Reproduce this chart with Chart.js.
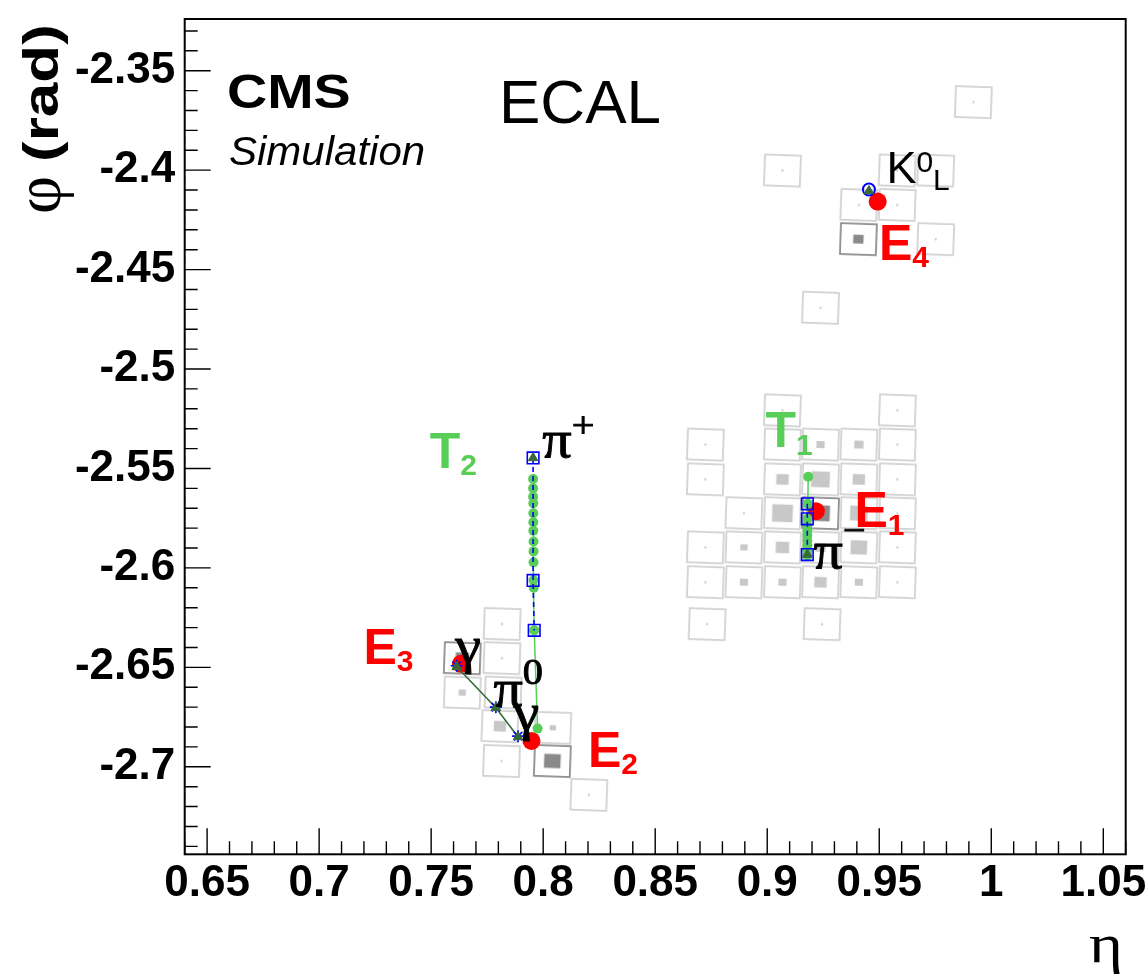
<!DOCTYPE html>
<html>
<head>
<meta charset="utf-8">
<title>ECAL event display</title>
<script src="https://cdn.jsdelivr.net/npm/chart.js@4.4.1/dist/chart.umd.min.js"></script>
<style>
  html, body { margin: 0; padding: 0; background: #ffffff; }
  #box { position: relative; width: 1148px; height: 978px; }
</style>
</head>
<body>
<div id="box"><canvas id="display" width="1148" height="978"></canvas></div>
<script>
// ---- axis ticks ----
const etaTicks = [0.65, 0.7, 0.75, 0.8, 0.85, 0.9, 0.95, 1, 1.05];
const phiTicks = [-2.7, -2.65, -2.6, -2.55, -2.5, -2.45, -2.4, -2.35];

// ---- ECAL crystals with energy deposits ----
const cellEta = [
  0.9920, 0.9068, 0.9580, 0.9752, 0.9409, 0.9580, 0.9407, 0.9752, 0.9238,
  0.9068, 0.9581,
  0.8724, 0.9068, 0.9238, 0.9409, 0.9581,
  0.8724, 0.9068, 0.9238, 0.9409, 0.9581,
  0.8896, 0.9068, 0.9238, 0.9409, 0.9581,
  0.8724, 0.8896, 0.9068, 0.9238, 0.9409, 0.9581,
  0.8724, 0.8896, 0.9068, 0.9238, 0.9409, 0.9581,
  0.8732, 0.9245,
  0.7817, 0.7639, 0.7816, 0.7639, 0.7821, 0.7807, 0.8043, 0.7814, 0.8041, 0.8204
];
const cellPhi = [
  -2.3658, -2.4002, -2.4002, -2.4002, -2.4175, -2.4175, -2.4347, -2.4347, -2.4692,
  -2.5208, -2.5208,
  -2.5380, -2.5380, -2.5380, -2.5380, -2.5380,
  -2.5555, -2.5555, -2.5555, -2.5555, -2.5555,
  -2.5725, -2.5725, -2.5725, -2.5725, -2.5725,
  -2.5897, -2.5897, -2.5897, -2.5897, -2.5897, -2.5897,
  -2.6072, -2.6072, -2.6072, -2.6072, -2.6072, -2.6072,
  -2.6283, -2.6283,
  -2.6282, -2.6454, -2.6454, -2.6627, -2.6627, -2.6796, -2.6804, -2.6971, -2.6971, -2.7141
];
// deposited energy (GeV)
const cellEnergy = [
  0.2, 0.2, 0.2, 0.2, 0.2, 0.2, 1.0, 0.2, 0.2,
  0.2, 0.2,
  0.2, 0.2, 0.8, 0.9, 0.2,
  0.2, 1.2, 1.8, 1.2, 0.2,
  0.2, 2.0, 1.8, 1.7, 0.2,
  0.2, 0.7, 1.3, 1.0, 1.6, 0.2,
  0.2, 0.8, 0.8, 1.2, 0.8, 0.2,
  0.2, 0.2,
  0.2, 1.3, 0.2, 0.7, 0.2, 1.2, 0.6, 0.2, 1.6, 0.2
];
// 1 = seed crystal of a cluster
const cellSeed = [
  0, 0, 0, 0, 0, 0, 1, 0, 0,
  0, 0,
  0, 0, 0, 0, 0,
  0, 0, 0, 0, 0,
  0, 0, 1, 0, 0,
  0, 0, 0, 0, 0, 0,
  0, 0, 0, 0, 0, 0,
  0, 0,
  0, 1, 0, 0, 0, 0, 0, 0, 1, 0
];

// ---- ECAL clusters E1..E4 ----
const clusterEta = [0.9217, 0.7948, 0.7633, 0.9493];
const clusterPhi = [-2.5715, -2.6870, -2.6482, -2.4158];

// ---- track T1 (pi-) ----
const t1Eta = [0.9183, 0.9181, 0.9179, 0.9179, 0.9179, 0.9179, 0.9179, 0.9179, 0.9179, 0.9179];
const t1Phi = [-2.5542, -2.5678, -2.5753, -2.5787, -2.5812, -2.5837, -2.5862, -2.5887, -2.5912, -2.5937];
const t1EcalEta = [0.9179, 0.9179, 0.9179];
const t1EcalPhi = [-2.5678, -2.5753, -2.5933];

// ---- track T2 (pi+) ----
const t2Eta = [0.7955, 0.7955, 0.7955, 0.7956, 0.7956, 0.7956, 0.7956, 0.7957, 0.7957, 0.7957, 0.7957, 0.7958, 0.7960, 0.7975];
const t2Phi = [-2.5553, -2.5600, -2.5642, -2.5675, -2.5725, -2.5770, -2.5813, -2.5867, -2.5917, -2.5972, -2.6062, -2.6100, -2.6314, -2.6808];
const t2EcalEta = [0.7955, 0.7955, 0.7960];
const t2EcalPhi = [-2.5447, -2.6063, -2.6314];

// ---- simulated particles: pi+, pi-, K0L, gamma, pi0, gamma ----
const simEta = [0.7955, 0.9179, 0.9454, 0.7614, 0.7789, 0.7888];
const simPhi = [-2.5447, -2.5933, -2.4105, -2.6497, -2.6703, -2.6850];
// photon impact points and pi0 vertex
const gammaEta = [0.7614, 0.7789, 0.7888];
const gammaPhi = [-2.6492, -2.6700, -2.6846];
// neutral hadron K0L impact
const k0Eta = [0.9454];
const k0Phi = [-2.4097];

// ---- styling ----
const SANS = '"Liberation Sans", Arial, Helvetica, sans-serif';
const SERIF = '"Liberation Serif", "Times New Roman", serif';
const GREEN = 'rgb(88,206,88)';
const DARKGREEN = '#386a38';
const BLUE = '#0000ff';
const RED = '#ff0000';

const ETA_MIN = 0.64, ETA_MAX = 1.06, PHI_MIN = -2.744, PHI_MAX = -2.324;
const CELL_DETA = 0.0160, CELL_DPHI = 0.0155;   // crystal face drawn size
const BOX_DETA_PER_GEV = 0.0046;                 // energy box width per GeV
const CELL_TILT = 2;                             // degrees

const pts = (ex, ph) => ex.map((e, i) => ({ x: e, y: ph[i] }));

// Each crystal is drawn as a small canvas image: frame plus energy box,
// sized from the current scales.
const cellImages = new Map();
function cellImage(chart, energy, seed) {
  const xs = chart.scales.x, ys = chart.scales.y;
  const pxEta = Math.abs(xs.getPixelForValue(1) - xs.getPixelForValue(0));
  const pxPhi = Math.abs(ys.getPixelForValue(-2) - ys.getPixelForValue(-3));
  const w = CELL_DETA * pxEta, h = CELL_DPHI * pxPhi;
  const key = [w.toFixed(2), h.toFixed(2), energy, seed].join('|');
  if (cellImages.has(key)) return cellImages.get(key);
  const pad = 2;
  const cv = document.createElement('canvas');
  cv.width = Math.ceil(w + 2 * pad);
  cv.height = Math.ceil(h + 2 * pad);
  const g = cv.getContext('2d');
  const cx = cv.width / 2, cy = cv.height / 2;
  g.lineWidth = 1.8;
  g.strokeStyle = seed ? '#8e8e8e' : '#d2d2d2';
  g.strokeRect(cx - w / 2, cy - h / 2, w, h);
  const bw = Math.max(energy * BOX_DETA_PER_GEV * pxEta, 2);
  const bh = Math.max(bw * 0.85, 2);
  g.fillStyle = seed ? '#8a8a8a' : '#c8c8c8';
  g.fillRect(cx - bw / 2, cy - bh / 2, bw, bh);
  cellImages.set(key, cv);
  return cv;
}

const fmt = v => String(Math.round(v * 100) / 100);

// Frame and inward ticks (major 0.05, minor 0.01)
const frameTicks = {
  id: 'frameTicks',
  afterDatasetsDraw(chart) {
    const { ctx, chartArea: a, scales: { x, y } } = chart;
    ctx.save();
    ctx.strokeStyle = '#000';
    ctx.lineWidth = 1.4;
    ctx.beginPath();
    for (let i = Math.ceil(ETA_MIN * 100); i <= Math.floor(ETA_MAX * 100); i++) {
      const px = x.getPixelForValue(i / 100);
      const len = i % 5 === 0 ? 26 : 13;
      ctx.moveTo(px, a.bottom);
      ctx.lineTo(px, a.bottom - len);
    }
    for (let i = Math.ceil(PHI_MIN * 100); i <= Math.floor(PHI_MAX * 100); i++) {
      const py = y.getPixelForValue(i / 100);
      const len = i % 5 === 0 ? 26 : 13;
      ctx.moveTo(a.left, py);
      ctx.lineTo(a.left + len, py);
    }
    ctx.stroke();
    ctx.lineWidth = 2;
    ctx.strokeRect(a.left, a.top, a.right - a.left, a.bottom - a.top);
    ctx.restore();
  }
};

// Labels attached to event objects (anchor = left end of the baseline)
const labelStyles = {
  cluster:  { color: RED,   main: `bold 50px ${SANS}`, small: `bold 30px ${SANS}`, sx: 1 },
  track:    { color: GREEN, main: `bold 50px ${SANS}`, small: `bold 30px ${SANS}`, sx: 1 },
  particle: { color: '#000', main: `52px ${SERIF}`, small: `36px ${SERIF}`, sx: 1.12, stroke: 0.9 },
  neutral:  { color: '#000', main: `45px ${SANS}`, small: `30px ${SANS}`, sx: 1 }
};
const eventLabels = [
  { eta: 0.9389, phi: -2.5792, style: 'cluster', parts: [{ t: 'E' }, { t: '1', dy: 8, small: true }] },
  { eta: 0.8200, phi: -2.7000, style: 'cluster', parts: [{ t: 'E' }, { t: '2', dy: 7, small: true }] },
  { eta: 0.7198, phi: -2.6483, style: 'cluster', parts: [{ t: 'E' }, { t: '3', dy: 7, small: true }] },
  { eta: 0.9499, phi: -2.4450, style: 'cluster', parts: [{ t: 'E' }, { t: '4', dy: 7, small: true }] },
  { eta: 0.7494, phi: -2.5497, style: 'track', parts: [{ t: 'T' }, { t: '2', dy: 7, small: true }] },
  { eta: 0.8992, phi: -2.5392, style: 'track', parts: [{ t: 'T' }, { t: '1', dy: 8, small: true }] },
  { eta: 0.7996, phi: -2.5442, style: 'particle', parts: [{ t: '\u03C0' }, { t: '+', dy: -20, small: true }] },
  { eta: 0.9206, phi: -2.6000, style: 'particle', parts: [{ t: '\u03C0' }, { t: '\u2212', dy: -26, small: true }] },
  { eta: 0.7778, phi: -2.6692, style: 'particle', parts: [{ t: '\u03C0' }, { t: '0', dy: -22, small: true }] },
  { eta: 0.7608, phi: -2.6477, style: 'particle', parts: [{ t: '\u03B3' }] },
  { eta: 0.7867, phi: -2.6817, style: 'particle', parts: [{ t: '\u03B3' }] },
  { eta: 0.9532, phi: -2.4067, style: 'neutral', parts: [{ t: 'K' }, { t: '0', dy: -11, small: true }, { t: 'L', dy: 7, small: true }] }
];

function drawParts(ctx, x, y, st, parts) {
  ctx.save();
  ctx.translate(x, y);
  ctx.scale(st.sx, 1);
  ctx.fillStyle = st.color;
  ctx.strokeStyle = st.color;
  let cx = 0;
  for (const p of parts) {
    ctx.font = p.small ? st.small : st.main;
    ctx.fillText(p.t, cx, p.dy || 0);
    if (st.stroke) { ctx.lineWidth = st.stroke; ctx.strokeText(p.t, cx, p.dy || 0); }
    cx += ctx.measureText(p.t).width;
  }
  ctx.restore();
}

const textLayer = {
  id: 'textLayer',
  afterDraw(chart) {
    const { ctx, scales: { x, y } } = chart;
    ctx.save();
    ctx.textBaseline = 'alphabetic';
    ctx.textAlign = 'left';
    for (const l of eventLabels) {
      drawParts(ctx, x.getPixelForValue(l.eta), y.getPixelForValue(l.phi), labelStyles[l.style], l.parts);
    }
    // CMS / Simulation / ECAL
    ctx.fillStyle = '#000';
    ctx.save();
    ctx.translate(227, 108);
    ctx.scale(1.16, 1);
    ctx.font = `bold 48px ${SANS}`;
    ctx.fillText('CMS', 0, 0);
    ctx.restore();
    ctx.save();
    ctx.translate(229, 165);
    ctx.scale(1.05, 1);
    ctx.font = `italic 40px ${SANS}`;
    ctx.fillText('Simulation', 0, 0);
    ctx.restore();
    ctx.font = `62px ${SANS}`;
    ctx.fillText('ECAL', 499, 123);
    // axis titles
    ctx.save();
    ctx.font = `54px ${SERIF}`;
    ctx.textAlign = 'right';
    ctx.translate(1123, 962);
    ctx.scale(1.2, 1);
    ctx.fillText('\u03B7', 0, 0);
    ctx.restore();
    ctx.save();
    ctx.translate(58, 214);
    ctx.rotate(-Math.PI / 2);
    ctx.font = `66px ${SERIF}`;
    ctx.fillText('\u03C6', 0, 2);
    const wPhi = ctx.measureText('\u03C6').width + 14;
    ctx.translate(wPhi, 0);
    ctx.scale(1.24, 1);
    ctx.font = `bold 50px ${SANS}`;
    ctx.fillText('(rad)', 0, 0);
    ctx.restore();
    ctx.restore();
  }
};

const chart = new Chart(document.getElementById('display'), {
  type: 'scatter',
  data: {
    datasets: [
      { label: 'simulated particles', data: pts(simEta, simPhi), pointStyle: 'triangle', pointRadius: 5.5,
        pointBackgroundColor: DARKGREEN, pointBorderColor: DARKGREEN, pointBorderWidth: 1, order: 0 },
      { label: 'K0L impact', data: pts(k0Eta, k0Phi), pointStyle: 'circle', pointRadius: 6,
        pointBackgroundColor: 'rgba(0,0,0,0)', pointBorderColor: BLUE, pointBorderWidth: 2, order: 1 },
      { label: 'photon impacts', data: pts(gammaEta, gammaPhi), pointStyle: 'star', pointRadius: 6,
        pointBorderColor: BLUE, pointBorderWidth: 1.6, order: 1 },
      { label: 'T1 at ECAL', data: pts(t1EcalEta, t1EcalPhi), showLine: true, borderColor: BLUE, borderWidth: 1.6,
        borderDash: [5, 4], pointStyle: 'rect', pointRadius: 8.2, pointBackgroundColor: 'rgba(0,0,0,0)',
        pointBorderColor: BLUE, pointBorderWidth: 1.6, order: 2 },
      { label: 'T2 at ECAL', data: pts(t2EcalEta, t2EcalPhi), showLine: true, borderColor: BLUE, borderWidth: 1.6,
        borderDash: [5, 4], pointStyle: 'rect', pointRadius: 8.2, pointBackgroundColor: 'rgba(0,0,0,0)',
        pointBorderColor: BLUE, pointBorderWidth: 1.6, order: 2 },
      { label: 'pi0 decay', data: [0, 1, 2].map(i => ({ x: simEta[3 + i], y: simPhi[3 + i] })), showLine: true,
        borderColor: DARKGREEN, borderWidth: 1.6, pointRadius: 0, order: 3 },
      { label: 'T1', data: pts(t1Eta, t1Phi), showLine: true, borderColor: GREEN, borderWidth: 1.5,
        pointRadius: 5, pointBackgroundColor: GREEN, pointBorderWidth: 0, order: 4 },
      { label: 'T2', data: pts(t2Eta, t2Phi), showLine: true, borderColor: GREEN, borderWidth: 1.5,
        pointRadius: 5, pointBackgroundColor: GREEN, pointBorderWidth: 0, order: 4 },
      { label: 'clusters', data: pts(clusterEta, clusterPhi), pointStyle: 'circle', pointRadius: 9,
        pointBackgroundColor: RED, pointBorderWidth: 0, order: 5 },
      { label: 'crystals', data: pts(cellEta, cellPhi), pointRadius: 18, pointRotation: CELL_TILT,
        pointStyle: c => cellImage(c.chart, cellEnergy[c.dataIndex], cellSeed[c.dataIndex]), order: 6 }
    ]
  },
  options: {
    responsive: false,
    animation: false,
    events: [],
    layout: { padding: { top: 15, right: 22.3, left: 0, bottom: 0 } },
    plugins: { legend: { display: false }, tooltip: { enabled: false } },
    scales: {
      x: {
        type: 'linear', position: 'bottom', min: ETA_MIN, max: ETA_MAX,
        grid: { display: false, drawTicks: false }, border: { display: false },
        afterBuildTicks: s => { s.ticks = etaTicks.map(v => ({ value: v })); },
        afterFit: s => { s.height = 123.7; s.paddingLeft = 0; s.paddingRight = 0; },
        ticks: { autoSkip: false, maxRotation: 0, minRotation: 0, padding: 3, color: '#000',
                 font: { family: SANS, size: 44, weight: 'bold' }, callback: v => fmt(v) }
      },
      y: {
        type: 'linear', position: 'left', min: PHI_MIN, max: PHI_MAX,
        grid: { display: false, drawTicks: false }, border: { display: false },
        afterBuildTicks: s => { s.ticks = phiTicks.map(v => ({ value: v })); },
        afterFit: s => { s.width = 184.7; s.paddingTop = 0; s.paddingBottom = 0; },
        ticks: { autoSkip: false, padding: 9.5, color: '#000',
                 font: { family: SANS, size: 44, weight: 'bold' }, callback: v => fmt(v) }
      }
    }
  },
  plugins: [frameTicks, textLayer]
});
</script>
</body>
</html>
